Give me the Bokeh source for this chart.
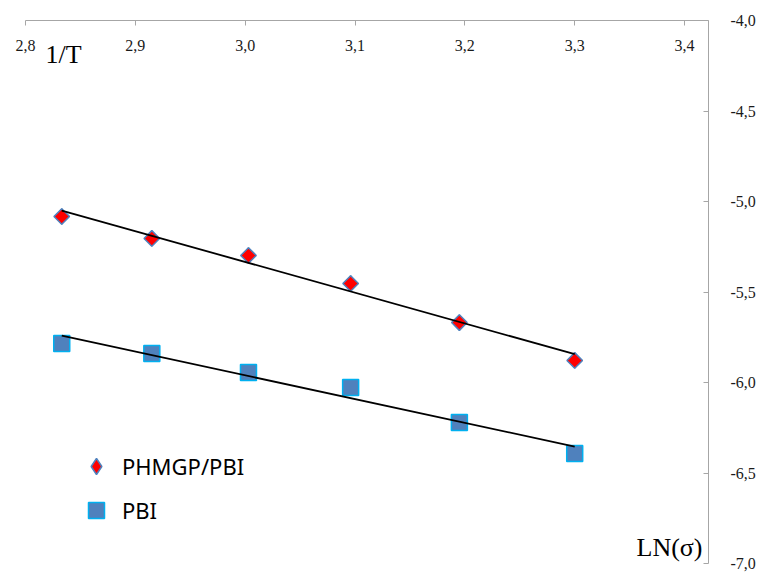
import numpy as np
from bokeh.plotting import figure
from bokeh.models import (Range1d, FixedTicker, CustomJSTickFormatter, Legend, LegendItem,
                          Label, LinearAxis)
from bokeh.embed import file_html
from bokeh.resources import INLINE

# ---- data ----
inv_T = [2.833, 2.915, 3.003, 3.096, 3.195, 3.300]
ln_sigma_phmgp = [-5.083, -5.204, -5.298, -5.453, -5.669, -5.878]
ln_sigma_pbi = [-5.785, -5.840, -5.945, -6.028, -6.221, -6.392]
series_names = ["PHMGP/PBI", "PBI"]
x_ticks = [2.8, 2.9, 3.0, 3.1, 3.2, 3.3, 3.4]
y_ticks = [-4.0, -4.5, -5.0, -5.5, -6.0, -6.5, -7.0]
x_title = "1/T"
y_title = "LN(σ)"

SERIF = "Liberation Serif"

p = figure(width=759, height=574, output_backend="svg", toolbar_location=None,
           x_range=Range1d(2.8, 3.4218), y_range=Range1d(-7.0, -4.0),
           x_axis_location=None, y_axis_location=None,
           min_border_left=25, min_border_top=20, min_border_right=51, min_border_bottom=11)
p.grid.visible = False
p.outline_line_color = None
p.background_fill_color = "white"

fmt = CustomJSTickFormatter(code="return tick.toFixed(1).replace('.', ',');")
common = dict(formatter=fmt, minor_tick_line_color=None,
              axis_line_color="#A6A6A6", major_tick_line_color="#A6A6A6",
              major_label_text_font=SERIF, major_label_text_font_size="16px",
              major_label_text_color="#1a1a1a")

# x axis along the top edge: ticks point down, labels sit just under the line
xaxis = LinearAxis(ticker=FixedTicker(ticks=x_ticks),
                   major_tick_out=0, major_tick_in=5, major_label_standoff=-30, **common)
p.add_layout(xaxis, "above")

# y axis on the right: ticks point left into the plot
yaxis = LinearAxis(ticker=FixedTicker(ticks=y_ticks),
                   major_tick_out=0, major_tick_in=5, major_label_standoff=22, **common)
p.add_layout(yaxis, "right")

# legend-only diamond, drawn underneath (and hidden by) the rotated squares
r1_leg = p.scatter(inv_T, ln_sigma_phmgp, marker="diamond", size=15,
                   fill_color="#FF0000", line_color="#4F81BD", line_width=1.5)
r1 = p.scatter(inv_T, ln_sigma_phmgp, marker="square", angle=np.pi / 4, size=11,
               fill_color="#FF0000", line_color="#4F81BD", line_width=1.5)
r2 = p.scatter(inv_T, ln_sigma_pbi, marker="square", size=16,
               fill_color="#4F81BD", line_color="#00B0F0", line_width=1.5)

for ys in (ln_sigma_phmgp, ln_sigma_pbi):
    k, b = np.polyfit(inv_T, ys, 1)
    xs = [min(inv_T), max(inv_T)]
    p.line(xs, [k * x + b for x in xs], line_color="black", line_width=1.8)

legend = Legend(items=[LegendItem(label=series_names[0], renderers=[r1_leg]),
                       LegendItem(label=series_names[1], renderers=[r2])],
                location=(51, 33), glyph_width=40, glyph_height=40, label_height=40,
                spacing=4, padding=0, margin=0, label_standoff=6,
                border_line_color=None, background_fill_alpha=0,
                label_text_font="Noto Sans", label_text_font_size="22px",
                label_text_color="#000000")
p.add_layout(legend)

p.add_layout(Label(x=20, y=495, x_units="screen", y_units="screen", text=x_title,
                   text_font=SERIF, text_font_size="26px", text_color="#000000"))
p.add_layout(Label(x=677, y=2, x_units="screen", y_units="screen", text=y_title,
                   text_align="right", text_font=SERIF, text_font_size="26px",
                   text_color="#000000"))

open("out.html", "w").write(file_html(p, INLINE))
